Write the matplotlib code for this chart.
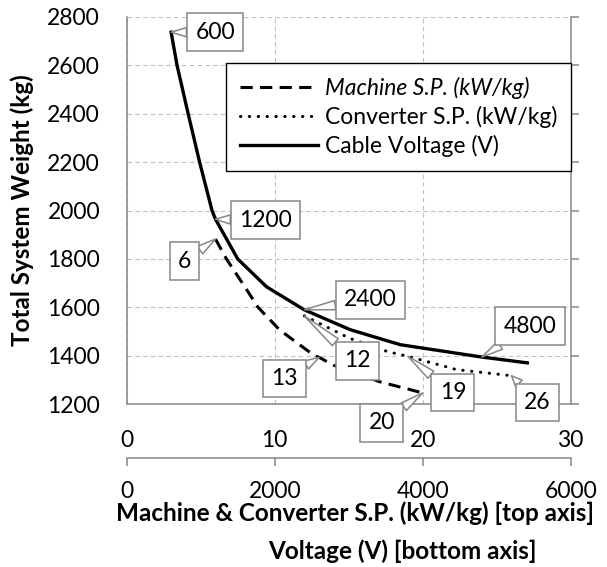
import matplotlib.pyplot as plt

# ---- data ----
# Cable voltage sweep (bottom axis, V) vs total weight (kg)
cable_v = [600, 680, 830, 985, 1153, 1200, 1500, 1890, 2400, 3020, 3698, 4800, 5414]
cable_kg = [2736, 2600, 2400, 2200, 2000, 1964, 1800, 1685, 1590, 1508, 1446, 1395, 1371]
cable_labels = [600, 1200, 2400, 4800]

# Machine specific power sweep (top axis, kW/kg)
machine_sp = [6, 6.74, 7.98, 8.88, 10.35, 12.7, 13, 13.96, 17.1, 20]
machine_kg = [1882, 1800, 1685, 1600, 1506, 1400, 1394, 1362, 1293, 1247]
machine_labels = [6, 13, 20]

# Converter specific power sweep (top axis, kW/kg)
conv_sp = [12, 15.08, 17.6, 19, 22.3, 26]
conv_kg = [1565, 1472, 1418, 1398, 1343, 1318]
conv_labels = [12, 19, 26]

sp_ticks = [0, 10, 20, 30]
v_ticks = [0, 2000, 4000, 6000]
kg_ticks = list(range(1200, 2801, 200))

plt.rcParams['font.family'] = ['Lato', 'DejaVu Sans']
grey = '#868686'
fs = 16.5
fs_title = 17.5

fig = plt.figure(figsize=(6.07, 5.67), dpi=100)
W, H = 607, 567
x0, x1, y0, y1 = 126.7, 570.7, 16.7, 404.3
ax = fig.add_axes([x0 / W, 1 - y1 / H, (x1 - x0) / W, (y1 - y0) / H])

ax.set_xlim(0, 30)
ax.set_ylim(1200, 2800)
ax.set_xticks(sp_ticks)
ax.set_yticks(kg_ticks)
ax.grid(True, color='#c0c0c0', linestyle=(0, (4, 3)), lw=0.8)
ax.set_axisbelow(True)
ax.tick_params(axis='x', length=0, labelsize=fs, pad=18.5)
ax.tick_params(axis='y', length=0, labelsize=fs, pad=19.2)
for s in ['top', 'right']:
    ax.spines[s].set_visible(False)
for s in ['left', 'bottom']:
    ax.spines[s].set_color(grey)
    ax.spines[s].set_linewidth(1.1)

# voltage axis, drawn as a second axis below the plot
ax2 = ax.twiny()
ax2.set_xlim(0, 6000)
ax2.set_xticks(v_ticks)
ax2.xaxis.set_ticks_position('bottom')
ax2.spines['bottom'].set_position(('outward', 38.4))
for s in ['top', 'left', 'right']:
    ax2.spines[s].set_visible(False)
ax2.spines['bottom'].set_color(grey)
ax2.spines['bottom'].set_linewidth(1.1)
ax2.tick_params(axis='x', length=5.8, width=1.1, color=grey, labelsize=fs, pad=11)

# right-hand axis with outward ticks only
ax3 = ax.twinx()
ax3.set_ylim(1200, 2800)
ax3.set_yticks(kg_ticks)
ax3.tick_params(axis='y', length=5.8, width=1.1, color=grey, labelright=False)
for s in ['top', 'left', 'bottom']:
    ax3.spines[s].set_visible(False)
ax3.spines['right'].set_color(grey)
ax3.spines['right'].set_linewidth(1.1)

l1, = ax.plot(machine_sp, machine_kg, color='black', lw=2.2,
              linestyle=(0, (4, 2.4)), label='Machine S.P. (kW/kg)')
l2, = ax.plot(conv_sp, conv_kg, color='black', lw=2.2, dash_capstyle='round',
              linestyle=(0, (0.1, 2.8)), label='Converter S.P. (kW/kg)')
l3, = ax2.plot(cable_v, cable_kg, color='black', lw=2.4, solid_joinstyle='round',
               label='Cable Voltage (V)')


def callout(axis, x, y, text, dx, dy):
    axis.annotate(text, xy=(x, y), xytext=(dx, dy), textcoords='offset pixels',
                  ha='center', va='center', fontsize=fs, zorder=5,
                  bbox=dict(boxstyle='square,pad=0.36', fc='white', ec=grey, lw=1.1),
                  arrowprops=dict(arrowstyle='wedge,tail_width=0.4', fc='white',
                                  ec=grey, lw=1.1, shrinkA=0, shrinkB=0))


cable_off = {600: (44, 0), 1200: (50, -1), 2400: (66, 10), 4800: (48, 31)}
for v in cable_labels:
    i = cable_v.index(v)
    callout(ax2, v, cable_kg[i], str(v), *cable_off[v])

machine_off = {6: (-31, -22), 13: (-35, -21), 20: (-41, -30)}
for sp in machine_labels:
    i = machine_sp.index(sp)
    callout(ax, sp, machine_kg[i], str(sp), *machine_off[sp])

conv_off = {12: (53, -45), 19: (45, -36), 26: (26, -27)}
for sp in conv_labels:
    i = conv_sp.index(sp)
    callout(ax, sp, conv_kg[i], str(sp), *conv_off[sp])

leg = fig.legend(handles=[l1, l2, l3], loc='upper right',
                 bbox_to_anchor=(570.7 / W, 1 - 63.3 / H), borderaxespad=0,
                 fontsize=fs, handlelength=3.4, handletextpad=0.3,
                 borderpad=0.6, labelspacing=0.3, fancybox=False, framealpha=1)
leg.get_frame().set_edgecolor('black')
leg.get_frame().set_linewidth(1.0)
leg.get_texts()[0].set_fontstyle('italic')

fig.text(22 / W, 1 - 210.5 / H, 'Total System Weight (kg)', rotation=90,
         ha='center', va='center', fontsize=fs_title, fontweight='bold')
fig.text(355 / W, 1 - 521 / H, 'Machine & Converter S.P. (kW/kg) [top axis]',
         ha='center', va='baseline', fontsize=fs_title, fontweight='bold')
fig.text(402 / W, 1 - 559 / H, 'Voltage (V) [bottom axis]',
         ha='center', va='baseline', fontsize=fs_title, fontweight='bold')

fig.savefig('out.png', dpi=100)
